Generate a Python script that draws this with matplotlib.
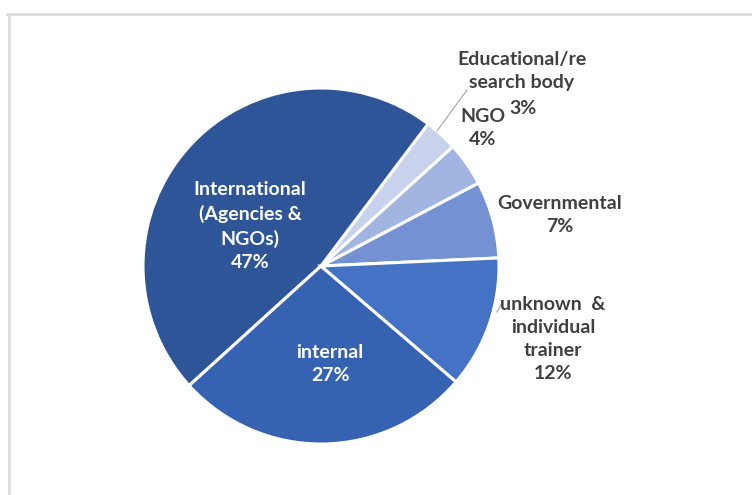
import matplotlib.pyplot as plt
from matplotlib.lines import Line2D

plt.rcParams['font.family'] = ['Lato', 'DejaVu Sans']

# data (counter-clockwise order, starting just above 3 o'clock)
labels = ["Governmental", "NGO", "Educational/re\nsearch body", "International\n(Agencies &\nNGOs)",
          "internal", "unknown  &\nindividual\ntrainer"]
shares = [7, 4, 3, 47, 27, 12]
colors = ["#7391d3", "#a2b5e0", "#c8d2ec", "#2e5597", "#3662b2", "#4472c4"]

W, H = 752, 495
fig = plt.figure(figsize=(W / 100, H / 100), dpi=100)

# pie centre and radius in pixels
cx, cy, r = 321, 266, 178
ax = fig.add_axes([(cx - r) / W, (H - cy - r) / H, 2 * r / W, 2 * r / H])
wedges, _ = ax.pie(shares, colors=colors, startangle=2.6, counterclock=True,
                   wedgeprops=dict(edgecolor="white", linewidth=2.2))
ax.set_aspect("auto")
ax.set_xlim(-1, 1)
ax.set_ylim(-1, 1)


def px(x, y):
    # pixel position (from top left) -> data coords of the pie axes
    return (x - cx) / r, (cy - y) / r


fs = 14
dark = "#404040"
txt = dict(ha="center", va="center", fontsize=fs, fontweight="bold", linespacing=1.45)

ax.text(*px(250, 226), labels[3] + "\n%d%%" % shares[3], color="white", **txt)
ax.text(*px(330, 364), labels[4] + "\n%d%%" % shares[4], color="white", **txt)
ax.text(*px(553, 339), labels[5] + "\n%d%%" % shares[5], color=dark, **txt)
ax.text(*px(560, 215), labels[0] + "\n%d%%" % shares[0], color=dark, **txt)
ax.text(*px(483, 128), labels[1] + "\n%d%%" % shares[1], color=dark, **txt)
# educational label: name and share drawn apart so the share sits next to "NGO"
ax.text(*px(522, 71), labels[2], color=dark, **txt)
ax.text(*px(523, 109), "%d%%" % shares[2], color=dark, **txt)

# leader lines
for (x0, y0), (x1, y1) in [((437, 131), (467, 90)), ((497, 312), (502, 303))]:
    a, b = px(x0, y0)
    c, d = px(x1, y1)
    ax.add_line(Line2D([a, c], [b, d], color="#a6a6a6", linewidth=0.8, clip_on=False))

# light frame at top and left
fig.add_artist(Line2D([7 / W, 1], [1 - 14 / H, 1 - 14 / H], transform=fig.transFigure,
                      color="#dcdcdc", linewidth=2))
fig.add_artist(Line2D([8.5 / W, 8.5 / W], [0, 1 - 14 / H], transform=fig.transFigure,
                      color="#dcdcdc", linewidth=2))

fig.savefig("out.png", dpi=100)
